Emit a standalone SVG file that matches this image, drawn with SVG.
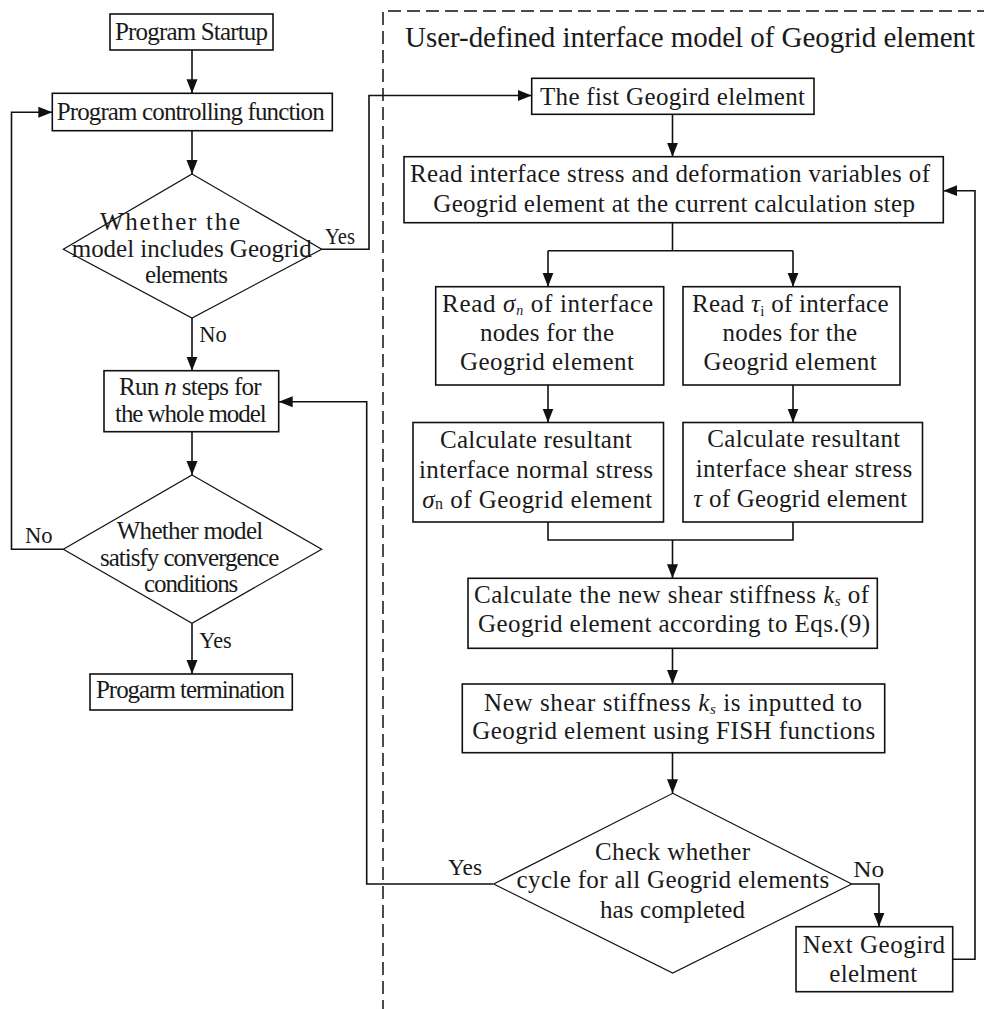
<svg xmlns="http://www.w3.org/2000/svg" width="984" height="1009" viewBox="0 0 984 1009">
<style>
.bg{fill:#fff}
.box{fill:#fff;stroke:#111;stroke-width:1.6}
.dia{fill:#fff;stroke:#111;stroke-width:1.2}
.conn{fill:none;stroke:#111;stroke-width:1.6}
.arr{fill:none;stroke:#111;stroke-width:1.6;marker-end:url(#ah)}
.frame{fill:none;stroke:#111;stroke-width:1.5;stroke-dasharray:13 6}
.t{font-family:"Liberation Serif","Times New Roman",serif;font-size:25px;fill:#1a1a1a}
.lbl{font-family:"Liberation Serif","Times New Roman",serif;font-size:23px;fill:#1a1a1a}
.title{font-family:"Liberation Serif","Times New Roman",serif;font-size:29px;fill:#1a1a1a}
.i{font-style:italic}
</style>
<defs>
<marker id="ah" markerUnits="userSpaceOnUse" markerWidth="15" markerHeight="12" refX="14" refY="6" orient="auto">
<path d="M0,0.5 L14,6 L0,11.5 z" fill="#111"/>
</marker>
</defs>
<rect class="bg" x="0" y="0" width="984" height="1009"/>

<path class="frame" d="M990,11 H383 V1012"/>

<g id="connectors">
<line class="arr" x1="192" y1="50" x2="192" y2="93.3"/>
<line class="arr" x1="192" y1="130.7" x2="192" y2="174"/>
<polyline class="arr" points="321.7,249.3 369,249.3 369,95.5 531.7,95.5"/>
<line class="arr" x1="192" y1="318" x2="192" y2="370.7"/>
<line class="arr" x1="192" y1="431.7" x2="192" y2="475"/>
<polyline class="arr" points="63.3,549.3 11.5,549.3 11.5,112.3 52.3,112.3"/>
<line class="arr" x1="192" y1="623.3" x2="192" y2="674"/>
<line class="arr" x1="672.5" y1="114.3" x2="672.5" y2="156.7"/>
<line class="conn" x1="672.5" y1="222.7" x2="672.5" y2="250.7"/>
<line class="conn" x1="548" y1="250.7" x2="793" y2="250.7"/>
<line class="arr" x1="548" y1="250.7" x2="548" y2="286.7"/>
<line class="arr" x1="793" y1="250.7" x2="793" y2="286.7"/>
<line class="arr" x1="548" y1="385" x2="548" y2="422.5"/>
<line class="arr" x1="793" y1="385" x2="793" y2="422.5"/>
<polyline class="conn" points="548,522 548,540 793,540 793,522"/>
<line class="arr" x1="672.5" y1="540" x2="672.5" y2="578.3"/>
<line class="arr" x1="672.5" y1="648.3" x2="672.5" y2="684"/>
<line class="arr" x1="672.5" y1="752.7" x2="672.5" y2="793.3"/>
<polyline class="arr" points="493,884 366.7,884 366.7,401.7 278.7,401.7"/>
<polyline class="arr" points="851.7,884 879,884 879,926.7"/>
<polyline class="arr" points="952.7,959.3 975,959.3 975,190.7 943.3,190.7"/>
<text class="lbl" x="325" y="244" textLength="30" lengthAdjust="spacingAndGlyphs">Yes</text>
<text class="lbl" x="199.3" y="341.7" textLength="27.4" lengthAdjust="spacingAndGlyphs">No</text>
<text class="lbl" x="25" y="543.3" textLength="27.7" lengthAdjust="spacingAndGlyphs">No</text>
<text class="lbl" x="199.3" y="648.3" textLength="32.4" lengthAdjust="spacingAndGlyphs">Yes</text>
<text class="lbl" x="448" y="875" textLength="34" lengthAdjust="spacingAndGlyphs">Yes</text>
<text class="lbl" x="853.3" y="877.3" textLength="31" lengthAdjust="spacingAndGlyphs">No</text>
</g>

<g id="title">
<text class="title" x="405" y="47" textLength="570" lengthAdjust="spacing">User-defined interface model of Geogrid element</text>
</g>

<g id="startup">
<rect class="box" x="110" y="14" width="163" height="36"/>
<text class="t" x="115" y="40" textLength="153" lengthAdjust="spacing">Program Startup</text>
</g>

<g id="controlling">
<rect class="box" x="52.3" y="93.3" width="280" height="37.4"/>
<text class="t" x="56.7" y="119.5" textLength="268" lengthAdjust="spacing">Program controlling function</text>
</g>

<g id="decision-geogrid">
<polygon class="dia" points="192,174 321.7,249.3 192,318 63.3,249.3"/>
<text class="t" x="100" y="230" textLength="140" lengthAdjust="spacing">Whether the</text>
<text class="t" x="71.7" y="257" textLength="240" lengthAdjust="spacing">model includes Geogrid</text>
<text class="t" x="145" y="283.3" textLength="83" lengthAdjust="spacing">elements</text>
</g>

<g id="run-steps">
<rect class="box" x="104" y="370.7" width="174.7" height="61"/>
<text class="t" x="119" y="395" textLength="142.7" lengthAdjust="spacing">Run <tspan class="i">n</tspan> steps for</text>
<text class="t" x="115" y="421.7" textLength="151.7" lengthAdjust="spacing">the whole model</text>
</g>

<g id="decision-convergence">
<polygon class="dia" points="192,475 321.7,549.3 192,623.3 63.3,549.3"/>
<text class="t" x="116.7" y="539.3" textLength="146.6" lengthAdjust="spacing">Whether  model</text>
<text class="t" x="100" y="566" textLength="179.3" lengthAdjust="spacing">satisfy convergence</text>
<text class="t" x="144" y="591.7" textLength="94.3" lengthAdjust="spacing">conditions</text>
</g>

<g id="termination">
<rect class="box" x="90" y="674" width="202.3" height="36"/>
<text class="t" x="96" y="698.3" textLength="189" lengthAdjust="spacing">Progarm termination</text>
</g>

<g id="first-element">
<rect class="box" x="531.7" y="78.3" width="282.3" height="36"/>
<text class="t" x="540" y="105" textLength="265" lengthAdjust="spacing">The fist Geogird elelment</text>
</g>

<g id="read-interface">
<rect class="box" x="404" y="156.7" width="539.3" height="66"/>
<text class="t" x="410" y="181.7" textLength="520" lengthAdjust="spacing">Read interface stress and deformation variables of</text>
<text class="t" x="433.3" y="211.7" textLength="481.7" lengthAdjust="spacing">Geogrid element at the current calculation step</text>
</g>

<g id="read-normal">
<rect class="box" x="435.7" y="286.7" width="228" height="98.3"/>
<text class="t" x="442" y="311.7" textLength="211" lengthAdjust="spacing">Read <tspan class="i">σ</tspan><tspan class="i" font-size="14" dy="3">n</tspan><tspan dy="-3"> of interface</tspan></text>
<text class="t" x="480" y="340.7" textLength="134" lengthAdjust="spacing">nodes for the</text>
<text class="t" x="460" y="370" textLength="174" lengthAdjust="spacing">Geogrid element</text>
</g>

<g id="read-shear">
<rect class="box" x="683" y="286.7" width="217" height="98.3"/>
<text class="t" x="692" y="311.7" textLength="196.6" lengthAdjust="spacing">Read <tspan class="i">τ</tspan><tspan font-size="15" dy="4">i</tspan><tspan dy="-4"> of interface</tspan></text>
<text class="t" x="722.5" y="340.7" textLength="134.5" lengthAdjust="spacing">nodes for the</text>
<text class="t" x="703.6" y="370" textLength="173" lengthAdjust="spacing">Geogrid element</text>
</g>

<g id="calc-normal">
<rect class="box" x="413" y="422.5" width="250.5" height="99.5"/>
<text class="t" x="440" y="448.3" textLength="192" lengthAdjust="spacing">Calculate resultant</text>
<text class="t" x="419" y="478.3" textLength="234" lengthAdjust="spacing">interface normal stress</text>
<text class="t" x="422.3" y="508.3" textLength="230" lengthAdjust="spacing"><tspan class="i">σ</tspan><tspan font-size="16" dy="1">n</tspan><tspan dy="-1"> of Geogrid element</tspan></text>
</g>

<g id="calc-shear">
<rect class="box" x="683" y="422.5" width="239.5" height="99.5"/>
<text class="t" x="707.3" y="447" textLength="193" lengthAdjust="spacing">Calculate resultant</text>
<text class="t" x="695.7" y="477.3" textLength="216.6" lengthAdjust="spacing">interface shear stress</text>
<text class="t" x="693.3" y="507.3" textLength="214" lengthAdjust="spacing"><tspan class="i">τ</tspan> of Geogrid element</text>
</g>

<g id="calc-stiffness">
<rect class="box" x="468" y="578.3" width="409.3" height="70"/>
<text class="t" x="474" y="603.3" textLength="395" lengthAdjust="spacing">Calculate the new shear stiffness <tspan class="i">k</tspan><tspan class="i" font-size="15" dy="3">s</tspan><tspan dy="-3"> of</tspan></text>
<text class="t" x="478" y="631.7" textLength="392" lengthAdjust="spacing">Geogrid element according to Eqs.(9)</text>
</g>

<g id="input-stiffness">
<rect class="box" x="462.3" y="684" width="422.4" height="68.7"/>
<text class="t" x="484" y="710.7" textLength="378" lengthAdjust="spacing">New shear stiffness <tspan class="i">k</tspan><tspan class="i" font-size="15" dy="3">s</tspan><tspan dy="-3">  is inputted to</tspan></text>
<text class="t" x="472.3" y="739.3" textLength="403" lengthAdjust="spacing">Geogrid element using FISH  functions</text>
</g>

<g id="decision-cycle">
<polygon class="dia" points="672.7,793.3 851.7,884 672.7,973 493.7,884"/>
<text class="t" x="595" y="860" textLength="155" lengthAdjust="spacing">Check whether</text>
<text class="t" x="516.6" y="888.3" textLength="312.7" lengthAdjust="spacing">cycle for all Geogrid elements</text>
<text class="t" x="600" y="918.3" textLength="145" lengthAdjust="spacing">has completed</text>
</g>

<g id="next-element">
<rect class="box" x="796" y="926.7" width="156.7" height="65"/>
<text class="t" x="802.7" y="953.3" textLength="142.3" lengthAdjust="spacing">Next Geogird</text>
<text class="t" x="829.3" y="981.7" textLength="88" lengthAdjust="spacing">elelment</text>
</g>
</svg>
